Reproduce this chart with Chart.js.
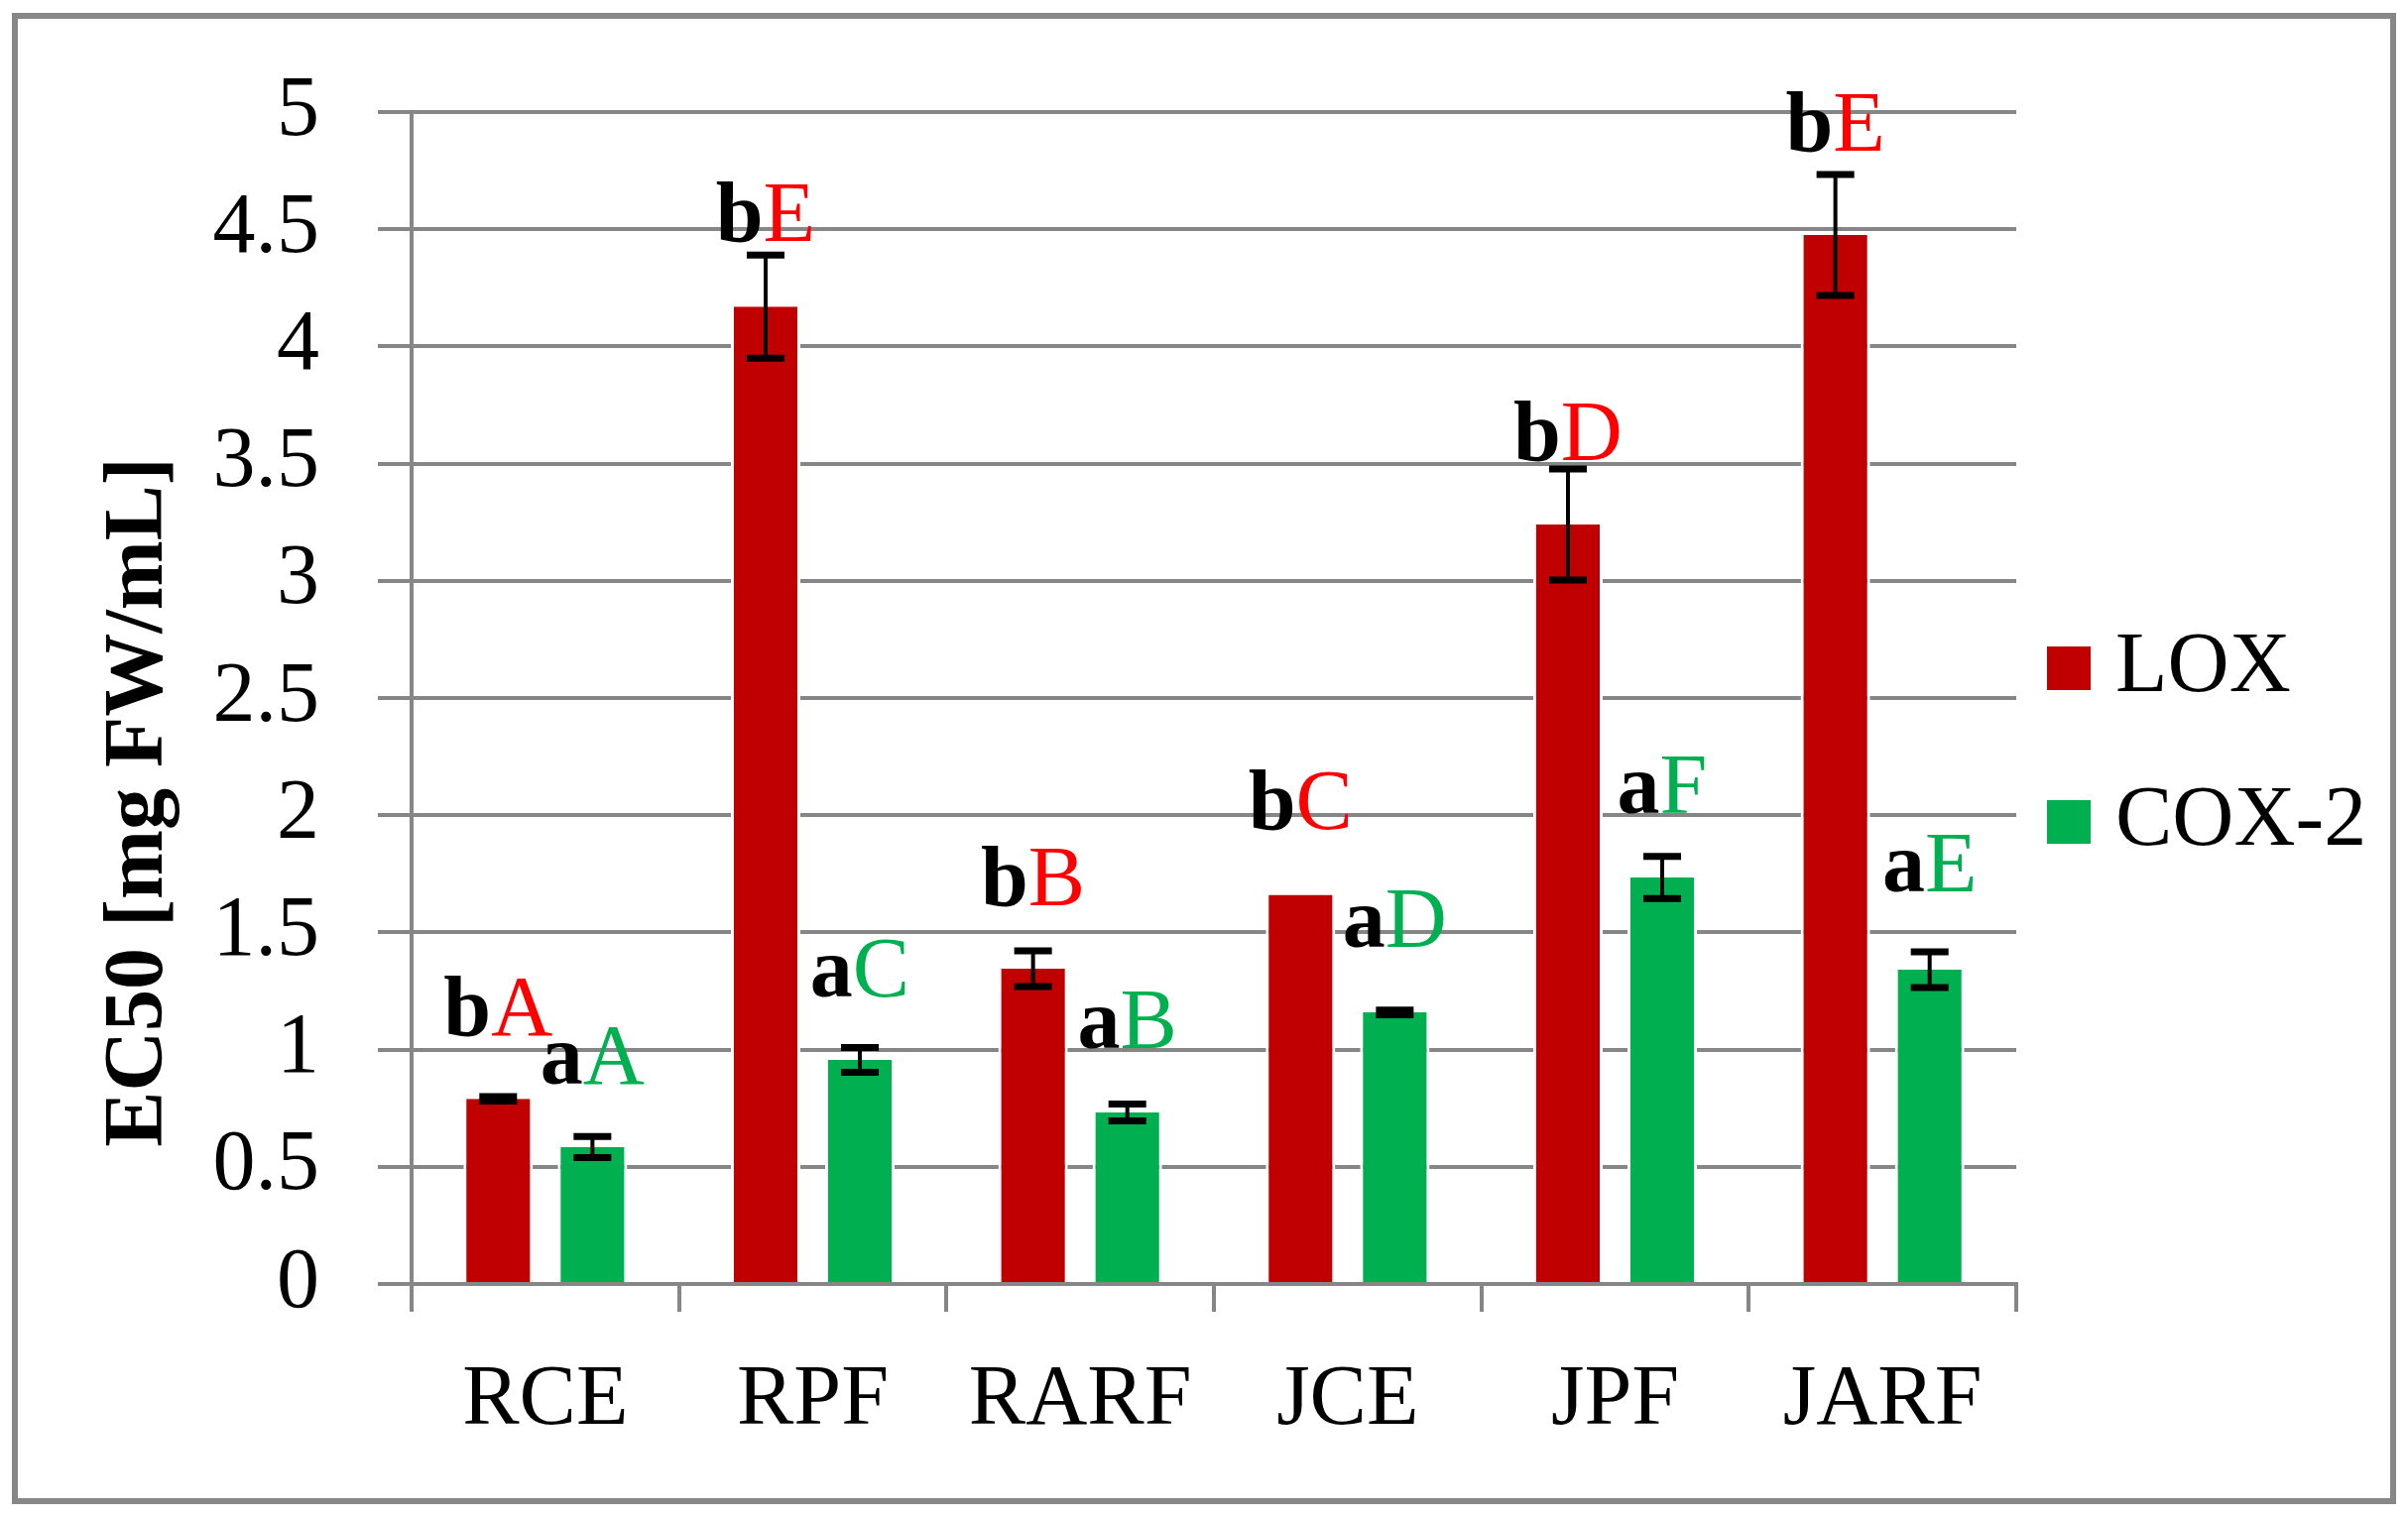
<!DOCTYPE html>
<html>
<head>
<meta charset="utf-8">
<title>EC50 LOX / COX-2</title>
<script src="https://cdn.jsdelivr.net/npm/chart.js@4.4.1/dist/chart.umd.min.js"></script>
<style>
  html, body { margin: 0; padding: 0; background: #fff; }
  canvas { display: block; }
</style>
</head>
<body>
<canvas id="ec50Chart" width="2428" height="1530"></canvas>
<script>
// values
const categories = ['RCE', 'RPF', 'RARF', 'JCE', 'JPF', 'JARF'];
const seriesNames = ['LOX', 'COX-2'];
const loxValues = [0.79, 4.17, 1.345, 1.66, 3.24, 4.475];
const loxErrors = [0.01, 0.22, 0.076, 0, 0.237, 0.258];
const coxValues = [0.584, 0.956, 0.732, 1.159, 1.734, 1.341];
const coxErrors = [0.045, 0.053, 0.036, 0.01, 0.09, 0.076];

// significance letters and the height (in EC50 units) where each sits
const loxLower = ['b', 'b', 'b', 'b', 'b', 'b'];
const loxUpper = ['A', 'E', 'B', 'C', 'D', 'E'];
const loxLetterAt = [1.06, 4.45, 1.615, 1.94, 3.515, 4.835];
const coxLower = ['a', 'a', 'a', 'a', 'a', 'a'];
const coxUpper = ['A', 'C', 'B', 'D', 'F', 'E'];
const coxLetterAt = [0.855, 1.227, 1.007, 1.44, 2.01, 1.675];

const yMin = 0, yMax = 5, yStep = 0.5;

const FONT = '"Liberation Serif", "Times New Roman", serif';
const GRID = '#868686';

Chart.defaults.font.family = FONT;
Chart.defaults.color = '#000';

const frame = {
    id: 'frame',
    beforeDraw(chart) {
        const ctx = chart.ctx;
        ctx.save();
        ctx.fillStyle = '#fff';
        ctx.fillRect(0, 0, chart.width, chart.height);
        ctx.strokeStyle = '#878787';
        ctx.lineWidth = 6;
        ctx.strokeRect(15, 16, chart.width - 30, chart.height - 32);
        ctx.restore();
    }
};

const errorBars = {
    id: 'errorBars',
    afterDatasetsDraw(chart) {
        const ctx = chart.ctx;
        const y = chart.scales.y;
        const errs = [loxErrors, coxErrors];
        ctx.save();
        ctx.strokeStyle = '#000';
        chart.data.datasets.forEach((ds, di) => {
            chart.getDatasetMeta(di).data.forEach((bar, i) => {
                const e = errs[di][i];
                if (!e) return;
                const v = ds.data[i];
                const top = y.getPixelForValue(v + e);
                const bot = y.getPixelForValue(v - e);
                ctx.lineWidth = 4;
                ctx.beginPath();
                ctx.moveTo(bar.x, top);
                ctx.lineTo(bar.x, bot);
                ctx.stroke();
                ctx.lineWidth = 7;
                ctx.beginPath();
                ctx.moveTo(bar.x - 19, top);
                ctx.lineTo(bar.x + 19, top);
                ctx.moveTo(bar.x - 19, bot);
                ctx.lineTo(bar.x + 19, bot);
                ctx.stroke();
            });
        });
        ctx.restore();
    }
};

const letters = {
    id: 'letters',
    afterDatasetsDraw(chart) {
        const ctx = chart.ctx;
        const y = chart.scales.y;
        const sets = [
            { lower: loxLower, upper: loxUpper, at: loxLetterAt, color: '#FF0000' },
            { lower: coxLower, upper: coxUpper, at: coxLetterAt, color: '#00B050' }
        ];
        ctx.save();
        ctx.textAlign = 'left';
        ctx.textBaseline = 'alphabetic';
        sets.forEach((s, di) => {
            chart.getDatasetMeta(di).data.forEach((bar, i) => {
                const bold = 'bold 86px ' + FONT;
                const plain = '86px ' + FONT;
                ctx.font = bold;
                const w1 = ctx.measureText(s.lower[i]).width;
                ctx.font = plain;
                const w2 = ctx.measureText(s.upper[i]).width;
                const x0 = bar.x - (w1 + w2) / 2;
                const yy = y.getPixelForValue(s.at[i]);
                ctx.font = bold;
                ctx.fillStyle = '#000';
                ctx.fillText(s.lower[i], x0, yy);
                ctx.font = plain;
                ctx.fillStyle = s.color;
                ctx.fillText(s.upper[i], x0 + w1, yy);
            });
        });
        ctx.restore();
    }
};

// legend drawn beside the plot, Excel style
const sideLegend = {
    id: 'sideLegend',
    afterDraw(chart) {
        const ctx = chart.ctx;
        const area = chart.chartArea;
        const left = area.right + 31;
        const rows = [672, 827];
        ctx.save();
        ctx.font = '86px ' + FONT;
        ctx.textAlign = 'left';
        ctx.textBaseline = 'middle';
        chart.data.datasets.forEach((ds, i) => {
            ctx.fillStyle = ds.backgroundColor;
            ctx.fillRect(left, rows[i] - 20, 44, 44);
            ctx.fillStyle = '#000';
            ctx.fillText(ds.label, left + 69, rows[i] + 2);
        });
        ctx.restore();
    }
};

const barSides = { left: 3, right: 3, top: 0, bottom: 0 };

const ctx = document.getElementById('ec50Chart').getContext('2d');
new Chart(ctx, {
    type: 'bar',
    data: {
        labels: categories,
        datasets: [
            {
                label: seriesNames[0],
                data: loxValues,
                backgroundColor: '#C00000',
                borderColor: '#fff',
                borderWidth: barSides,
                categoryPercentage: 0.705,
                barPercentage: 0.737
            },
            {
                label: seriesNames[1],
                data: coxValues,
                backgroundColor: '#00B050',
                borderColor: '#fff',
                borderWidth: barSides,
                categoryPercentage: 0.705,
                barPercentage: 0.737
            }
        ]
    },
    options: {
        responsive: false,
        devicePixelRatio: 1,
        animation: false,
        layout: { padding: { left: 40, top: 113, right: 395, bottom: 40 } },
        plugins: {
            legend: { display: false },
            tooltip: { enabled: false }
        },
        scales: {
            x: {
                grid: {
                    offset: true,
                    drawOnChartArea: false,
                    drawTicks: true,
                    tickLength: 28,
                    color: GRID,
                    lineWidth: 4
                },
                border: { display: true, color: GRID, width: 4 },
                ticks: {
                    font: { size: 86 },
                    color: '#000',
                    padding: 39,
                    autoSkip: false,
                    maxRotation: 0
                },
                afterFit(scale) { scale.height = 195; }
            },
            y: {
                min: yMin,
                max: yMax,
                grid: {
                    color: GRID,
                    lineWidth: 4,
                    drawTicks: true,
                    tickLength: 34
                },
                border: { display: true, color: GRID, width: 4 },
                ticks: {
                    stepSize: yStep,
                    font: { size: 86 },
                    color: '#000',
                    padding: 59,
                    callback: v => String(v)
                },
                title: {
                    display: true,
                    text: 'EC50 [mg FW/mL]' + '\u00A0'.repeat(10),
                    font: { size: 84, weight: 'bold' },
                    color: '#000',
                    padding: { top: 51, bottom: 0 }
                },
                afterFit(scale) { scale.width = 375; }
            }
        }
    },
    plugins: [frame, errorBars, letters, sideLegend]
});
</script>
</body>
</html>
